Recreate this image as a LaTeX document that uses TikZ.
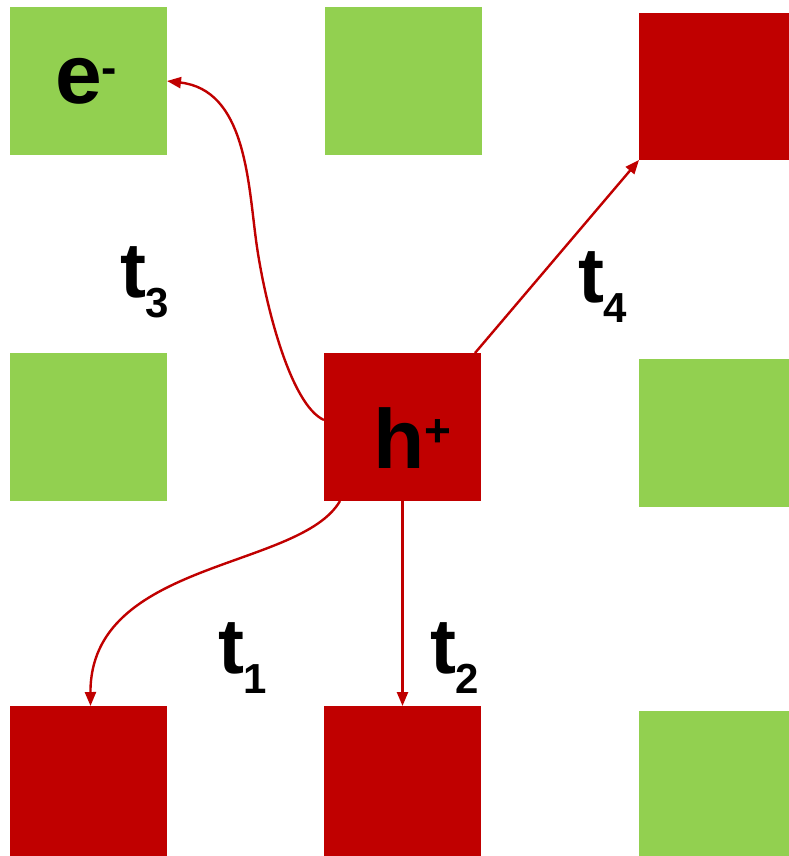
\documentclass[tikz,border=0pt]{standalone}
\usepackage{fontspec}
\setmainfont{Liberation Sans}
\usetikzlibrary{arrows.meta,calc}
\definecolor{cred}{HTML}{C00000}
\definecolor{cgreen}{HTML}{92D050}
\begin{document}
\begin{tikzpicture}[x=1pt,y=-1pt,
  sq/.style={rectangle, inner sep=0pt, outer sep=0pt, minimum width=157pt, minimum height=148pt, anchor=north west},
  gr/.style={sq, fill=cgreen},
  rd/.style={sq, fill=cred},
  lbl/.style={inner sep=0pt, outer sep=0pt, anchor=base west, font=\bfseries},
  arr/.style={draw=cred, line width=2.4pt, -{Triangle[length=14pt,width=11pt]}}]
\useasboundingbox (0,0) rectangle (788,856);
% squares
\node[gr] (tl) at (10,7) {};
\node[gr] (tm) at (325,7) {};
\node[rd, minimum width=150pt, minimum height=147pt] (tr) at (639,13) {};
\node[gr] (ml) at (10,353) {};
\node[rd] (c) at (324,353) {};
\node[gr, minimum width=150pt] (mr) at (639,359) {};
\node[rd, minimum height=150pt] (bl) at (10,706) {};
\node[rd, minimum height=150pt] (bm) at (324,706) {};
\node[gr, minimum width=150pt, minimum height=145pt] (br) at (639,711) {};
% particle labels
\node[lbl] (e) at (55,103) {\fontsize{84pt}{84pt}\selectfont e\raisebox{20pt}{\fontsize{46pt}{46pt}\selectfont -}};
\node[lbl] (h) at (373,468) {\fontsize{84pt}{84pt}\selectfont h\raisebox{22pt}{\fontsize{46pt}{46pt}\selectfont +}};
% time labels
\node[lbl] (t3) at (120,297) {\fontsize{78pt}{78pt}\selectfont t\raisebox{-20pt}{\fontsize{42pt}{42pt}\selectfont 3}};
\node[lbl] (t4) at (578,302) {\fontsize{78pt}{78pt}\selectfont t\raisebox{-20pt}{\fontsize{42pt}{42pt}\selectfont 4}};
\node[lbl] (t1) at (218,673) {\fontsize{78pt}{78pt}\selectfont t\raisebox{-20pt}{\fontsize{42pt}{42pt}\selectfont 1}};
\node[lbl] (t2) at (430,673) {\fontsize{78pt}{78pt}\selectfont t\raisebox{-20pt}{\fontsize{42pt}{42pt}\selectfont 2}};
% arrows
\draw[arr] ($(c.south west)+(16,0)$) .. controls (300,570) and (90,560) .. ($(bl.north)+(2,0)$);
\draw[arr] (c.south) -- (bm.north);
\draw[arr] ($(c.west)+(0,-7)$) .. controls (290,405) and (264,300) .. (256,240) .. controls (248,180) and (245,90) .. (tl.east);
\draw[arr] ($(c.north east)+(-6,0)$) -- (tr.south west);
\end{tikzpicture}
\end{document}
